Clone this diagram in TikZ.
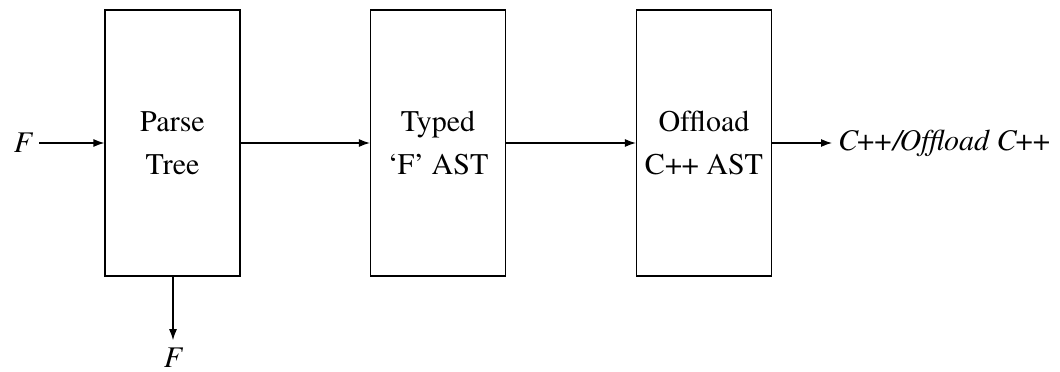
\documentclass[tikz,border=0pt]{standalone}
\usepackage[T1]{fontenc}
\usepackage{mathptmx}
\usetikzlibrary{arrows.meta}
\newcommand{\itcpp}{C\kern-2.5pt+\kern-3pt+}
\begin{document}
\begin{tikzpicture}[x=1pt,y=-1pt,
  stage/.style={draw, line width=1.2pt, minimum width=135pt, minimum height=266pt, align=center, inner sep=0pt, font=\fontsize{30}{43}\selectfont},
  lbl/.style={font=\fontsize{30}{43}\selectfont\itshape},
  conn/.style={line width=1.2pt, -{Latex[length=11pt,width=8pt]}}]
\useasboundingbox (0,0) rectangle (1060,372);
\node[stage] (parse) at (172.5,143) {Parse\\Tree};
\node[stage] (typed) at (438,143) {Typed\\`F' AST};
\node[stage] (off) at (704,143) {Offload\\C++ AST};
\node[lbl, inner sep=7pt] (fin) at (23,143) {F};
\node[lbl, inner sep=8pt] (fout) at (173,358) {F};
\node[lbl, inner sep=6pt, anchor=west] (out) at (832,143) {\itcpp/\kern-2pt Offload \itcpp};
\draw[conn] (fin) -- (parse);
\draw[conn] (parse) -- (typed);
\draw[conn] (typed) -- (off);
\draw[conn] (off) -- (out);
\draw[conn] (parse.south -| fout) -- (fout);
\end{tikzpicture}
\end{document}
